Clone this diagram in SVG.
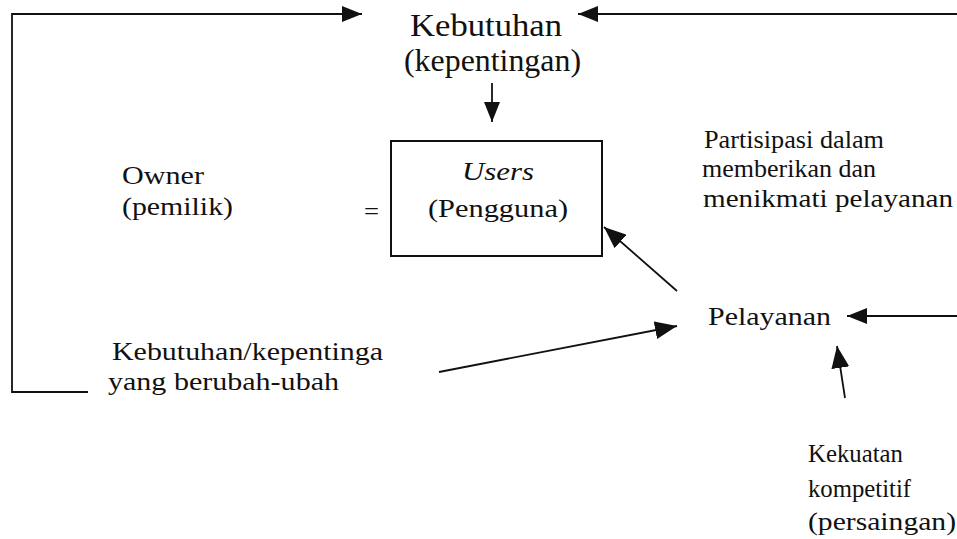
<svg xmlns="http://www.w3.org/2000/svg" width="957" height="539" viewBox="0 0 957 539">
  <defs>
    <style>
      .t { font-family: "Liberation Serif", "Times New Roman", serif; font-size: 26px; fill: #111; }
      .big { font-size: 32px; }
      .it { font-style: italic; }
      .c { fill: none; stroke: #111; stroke-width: 1.8; }
      .box { fill: none; stroke: #111; stroke-width: 2; }
    </style>
    <marker id="ah" viewBox="0 0 20 16" refX="20" refY="8" markerWidth="20" markerHeight="16" markerUnits="userSpaceOnUse" orient="auto">
      <path d="M0,0 L20,8 L0,16 z" fill="#111"/>
    </marker>
    <marker id="ah2" viewBox="0 0 22 18" refX="22" refY="9" markerWidth="22" markerHeight="18" markerUnits="userSpaceOnUse" orient="auto">
      <path d="M0,0 L22,9 L0,18 z" fill="#111"/>
    </marker>
  </defs>
  <rect width="957" height="539" fill="#ffffff"/>

  <g id="kebutuhan">
    <text class="t big" x="410" y="36" textLength="152" lengthAdjust="spacingAndGlyphs">Kebutuhan</text>
    <text class="t big" x="404" y="71" textLength="177" lengthAdjust="spacingAndGlyphs">(kepentingan)</text>
  </g>

  <g id="owner">
    <text class="t" x="122" y="184" textLength="82" lengthAdjust="spacingAndGlyphs">Owner</text>
    <text class="t" x="122" y="215" textLength="111" lengthAdjust="spacingAndGlyphs">(pemilik)</text>
  </g>

  <g id="equals">
    <text class="t" x="364" y="220" textLength="15" lengthAdjust="spacingAndGlyphs">=</text>
  </g>

  <g id="users">
    <rect class="box" x="391" y="141" width="211" height="115"/>
    <text class="t it" x="462" y="180" textLength="72" lengthAdjust="spacingAndGlyphs">Users</text>
    <text class="t" x="428" y="217" textLength="140" lengthAdjust="spacingAndGlyphs">(Pengguna)</text>
  </g>

  <g id="partisipasi">
    <text class="t" x="704" y="148" textLength="180" lengthAdjust="spacingAndGlyphs">Partisipasi dalam</text>
    <text class="t" x="702" y="177" textLength="174" lengthAdjust="spacingAndGlyphs">memberikan dan</text>
    <text class="t" x="703" y="207" textLength="250" lengthAdjust="spacingAndGlyphs">menikmati pelayanan</text>
  </g>

  <g id="pelayanan">
    <text class="t" x="708" y="325" textLength="123" lengthAdjust="spacingAndGlyphs">Pelayanan</text>
  </g>

  <g id="berubah">
    <text class="t" x="112" y="360" textLength="271" lengthAdjust="spacingAndGlyphs">Kebutuhan/kepentinga</text>
    <text class="t" x="108" y="390" textLength="231" lengthAdjust="spacingAndGlyphs">yang berubah-ubah</text>
  </g>

  <g id="kekuatan">
    <text class="t" x="808" y="462" textLength="95" lengthAdjust="spacingAndGlyphs">Kekuatan</text>
    <text class="t" x="808" y="497" textLength="103" lengthAdjust="spacingAndGlyphs">kompetitif</text>
    <text class="t" x="808" y="530" textLength="148" lengthAdjust="spacingAndGlyphs">(persaingan)</text>
  </g>

  <g id="connectors">
    <path class="c" d="M88,392 L12,392 L12,14 L362,14" marker-end="url(#ah)"/>
    <path class="c" d="M957,14 L578,14" marker-end="url(#ah)"/>
    <path class="c" d="M492,83 L492,122" marker-end="url(#ah)"/>
    <path class="c" d="M677,291 L604,227" marker-end="url(#ah2)"/>
    <path class="c" d="M439,372 L677,326" marker-end="url(#ah2)"/>
    <path class="c" d="M957,316 L847,316" marker-end="url(#ah)"/>
    <path class="c" d="M845,398 L837,346" marker-end="url(#ah2)"/>
  </g>
</svg>
